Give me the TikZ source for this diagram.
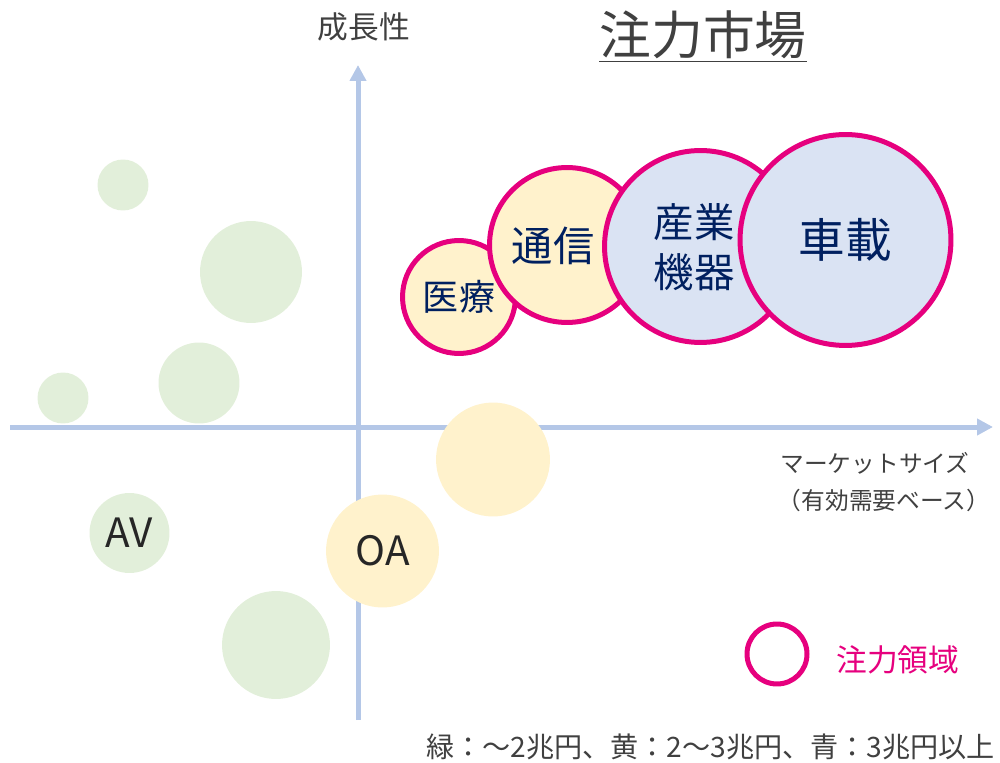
\documentclass[tikz,border=0pt]{standalone}
\usepackage{fontspec}
\setmainfont{Noto Sans CJK JP}
\usetikzlibrary{arrows.meta}
\definecolor{axisblue}{RGB}{180,199,231}
\definecolor{bubgreen}{RGB}{226,239,218}
\definecolor{bubyellow}{RGB}{255,242,204}
\definecolor{bubblue}{RGB}{218,227,243}
\definecolor{focuspink}{RGB}{230,0,126}
\definecolor{labelnavy}{RGB}{0,32,96}
\definecolor{textgray}{RGB}{64,64,64}
\def\fsize#1{\fontsize{#1}{#1}\selectfont}
\tikzset{
	bubble/.style={circle, inner sep=0pt, minimum size=#1*0.04cm},
	focus/.style={draw=focuspink, line width=0.1cm},
	axis/.style={draw=axisblue, line width=0.1cm, -{Triangle[length=0.32cm,width=0.32cm]}}
}

\begin{document}
\begin{tikzpicture}[x=0.02cm, y=-0.02cm]
				\useasboundingbox (0,0) rectangle (1000,763);
				
				\coordinate (xstart) at (10,427);
				\coordinate (xend) at (993,427);
				\coordinate (ystart) at (358,720);
				\coordinate (yend) at (358,65);
				\draw[axis] (xstart) -- (xend);
				\draw[axis] (ystart) -- (yend);
				
				\node[bubble=25.5, fill=bubgreen] (g1) at (123,185) {};
				\node[bubble=51, fill=bubgreen] (g2) at (251,272) {};
				\node[bubble=40.5, fill=bubgreen] (g3) at (199,383) {};
				\node[bubble=25.5, fill=bubgreen] (g4) at (63,398) {};
				\node[bubble=40, fill=bubgreen, text=black!85, font=\fsize{23}] (av) at (129.5,533) {AV};
				\node[bubble=54, fill=bubgreen] (g5) at (276,645) {};
				
				\node[bubble=57, fill=bubyellow] (y1) at (493,459.5) {};
				\node[bubble=56.5, fill=bubyellow, text=black!85, font=\fsize{23}] (oa) at (382.5,551) {OA};
				
				\node[bubble=56.5, fill=bubyellow, focus, text=labelnavy, font=\fsize{20.5}] (iryo) at (459,297) {医療};
				\node[bubble=77.5, fill=bubyellow, focus] (tsushin) at (567,245) {};
				\node[text=labelnavy, font=\fsize{23.5}] (tsushintext) at (553,246) {通信};
				\node[bubble=96, fill=bubblue, focus] (sangyo) at (700.5,246.5) {};
				\node[text=labelnavy, font=\fsize{23}, align=center] (sangyotext) at (694,247) {産業\\[0.18cm]機器};
				\node[bubble=105.5, fill=bubblue, focus, text=labelnavy, font=\fsize{26.5}] (shasai) at (845.5,240) {車載};
				
				\node[text=textgray, font=\fsize{17.5}] (growth) at (364,27) {成長性};
				\node[text=textgray, font=\fsize{29.5}] (title) at (703,37) {\underline{注力市場}};
				\node[text=textgray, font=\fsize{13.5}] (size1) at (875,463) {マーケットサイズ};
				\node[text=textgray, font=\fsize{13.5}] (size2) at (884,500) {（有効需要ベース）};
				
				\node[bubble=30, focus] (legend) at (777,654) {};
				\node[text=focuspink, font=\fsize{17.5}, anchor=west, inner sep=0pt] (legendtext) at (836,660) {注力領域};
				
				\node[text=textgray, font=\fsize{16}, anchor=east, inner sep=0pt] (note) at (995,747) {緑：～2兆円、黄：2～3兆円、青：3兆円以上};
			\end{tikzpicture}
\end{document}
